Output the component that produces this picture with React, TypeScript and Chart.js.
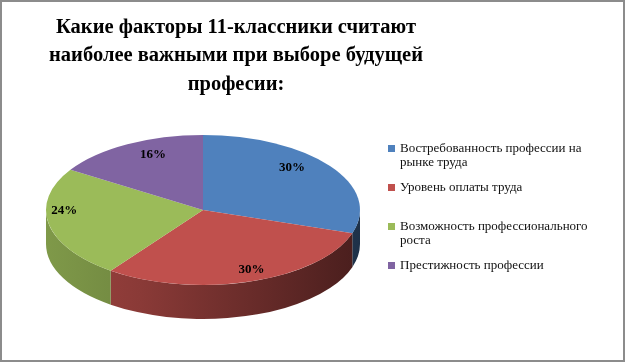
import { useEffect, useRef } from "react";
import { Chart, registerables } from "chart.js";

Chart.register(...registerables);

const categories = [
  "Востребованность профессии на рынке труда",
  "Уровень оплаты труда",
  "Возможность профессионального роста",
  "Престижность профессии",
];
const shares = [30, 30, 24, 16];
const colors = ["#4F81BD", "#C0504D", "#9BBB59", "#8064A2"];
const titleLines = [
  "Какие факторы 11-классники считают",
  "наиболее важными при выборе будущей",
  "професии:",
];

const W = 625;
const H = 362;
const PIE = { cx: 203, cy: 210, rx: 157, ry: 75, depth: 34 };
const LABEL_CENTER = { x: 203, y: 198 };
const labelRadius = [0.7, 1.0, 0.9, 0.66];
const LEGEND = { box: 388, text: 400, y: 149, step: 39, lineH: 14, maxW: 210 };
const SERIF = "'Liberation Serif', 'Times New Roman', serif";

function shade(hex: string, f: number) {
  const n = parseInt(hex.slice(1), 16);
  const r = Math.round(((n >> 16) & 255) * f);
  const g = Math.round(((n >> 8) & 255) * f);
  const b = Math.round((n & 255) * f);
  return `rgb(${r},${g},${b})`;
}

function wrap(ctx: CanvasRenderingContext2D, text: string, maxW: number) {
  const words = text.split(" ");
  const lines: string[] = [];
  let cur = "";
  for (const w of words) {
    const t = cur ? cur + " " + w : w;
    if (cur && ctx.measureText(t).width > maxW) {
      lines.push(cur);
      cur = w;
    } else cur = t;
  }
  if (cur) lines.push(cur);
  return lines;
}

const pie3d = {
  id: "pie3d",
  beforeDatasetsDraw(chart: any) {
    const ctx: CanvasRenderingContext2D = chart.ctx;
    const meta = chart.getDatasetMeta(0);
    const { cx, cy, rx, ry, depth } = PIE;
    meta.data.forEach((arc: any, i: number) => {
      const a1 = Math.max(arc.startAngle, 0);
      const a2 = Math.min(arc.endAngle, Math.PI);
      if (a2 <= a1) return;
      const g = ctx.createLinearGradient(cx - rx, 0, cx + rx, 0);
      g.addColorStop(0, shade(colors[i], 0.82));
      g.addColorStop(0.3, shade(colors[i], 0.72));
      g.addColorStop(1, shade(colors[i], 0.38));
      ctx.save();
      ctx.beginPath();
      ctx.ellipse(cx, cy, rx, ry, 0, a1, a2, false);
      ctx.ellipse(cx, cy + depth, rx, ry, 0, a2, a1, true);
      ctx.closePath();
      ctx.fillStyle = g;
      ctx.fill();
      ctx.restore();
    });
    const a0 = meta.data[0];
    const R = a0.outerRadius;
    ctx.save();
    ctx.translate(cx, cy);
    ctx.scale(rx / R, ry / R);
    ctx.translate(-a0.x, -a0.y);
  },
  afterDatasetsDraw(chart: any) {
    const ctx: CanvasRenderingContext2D = chart.ctx;
    ctx.restore();
    const meta = chart.getDatasetMeta(0);
    const total = shares.reduce((s, v) => s + v, 0);
    ctx.save();
    ctx.font = `bold 13px ${SERIF}`;
    ctx.fillStyle = "#000";
    ctx.textAlign = "center";
    ctx.textBaseline = "middle";
    meta.data.forEach((arc: any, i: number) => {
      const mid = (arc.startAngle + arc.endAngle) / 2;
      const f = labelRadius[i];
      const x = LABEL_CENTER.x + f * PIE.rx * Math.cos(mid);
      const y = LABEL_CENTER.y + f * PIE.ry * Math.sin(mid);
      ctx.fillText(Math.round((shares[i] / total) * 100) + "%", x, y);
    });
    ctx.restore();
  },
  afterDraw(chart: any) {
    const ctx: CanvasRenderingContext2D = chart.ctx;
    ctx.save();
    ctx.font = `13px ${SERIF}`;
    ctx.textBaseline = "middle";
    ctx.textAlign = "left";
    categories.forEach((c, i) => {
      const y = LEGEND.y + i * LEGEND.step;
      ctx.fillStyle = colors[i];
      ctx.fillRect(LEGEND.box, y - 4, 7, 7);
      ctx.fillStyle = "#111";
      wrap(ctx, c, LEGEND.maxW).forEach((line, k) => {
        ctx.fillText(line, LEGEND.text, y + k * LEGEND.lineH);
      });
    });
    ctx.restore();
  },
};

export default function App() {
  const ref = useRef<HTMLCanvasElement>(null);
  useEffect(() => {
    if (!ref.current) return;
    const chart = new Chart(ref.current, {
      type: "pie",
      data: {
        labels: categories,
        datasets: [
          {
            data: shares,
            backgroundColor: colors,
            borderWidth: 0,
          },
        ],
      },
      options: {
        responsive: false,
        animation: false,
        layout: { padding: { left: 0, right: 153, top: 0, bottom: 0 } },
        plugins: {
          legend: { display: false },
          tooltip: { enabled: false },
          title: {
            display: true,
            text: titleLines,
            color: "#000",
            font: { family: SERIF, size: 20.5, weight: "bold", lineHeight: 1.38 },
            padding: { top: 13.5, bottom: 0 },
          },
        },
      },
      plugins: [pie3d],
    });
    return () => chart.destroy();
  }, []);
  return (
    <div style={{ position: "absolute", left: 0, top: 0, width: W, height: H, background: "#fff" }}>
      <canvas ref={ref} width={W} height={H} style={{ display: "block" }} />
      <div
        style={{
          position: "absolute",
          left: 0,
          top: 0,
          width: W,
          height: H,
          boxSizing: "border-box",
          border: "2px solid #8c8c8c",
          pointerEvents: "none",
        }}
      />
    </div>
  );
}
